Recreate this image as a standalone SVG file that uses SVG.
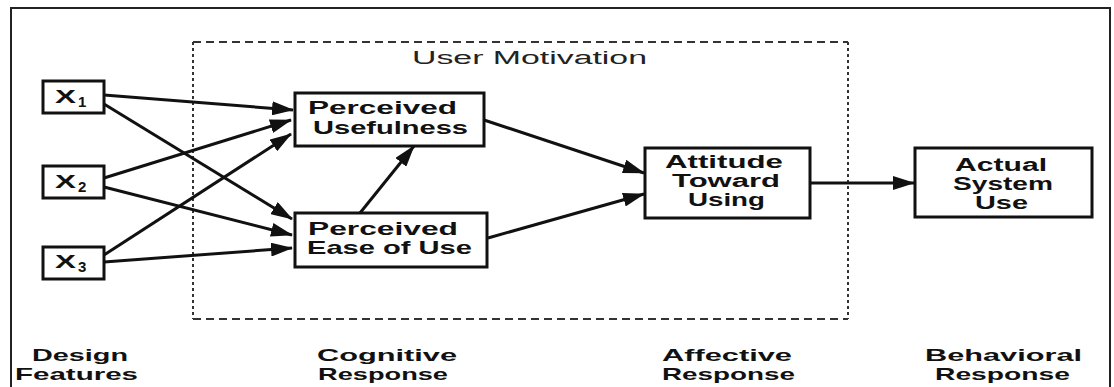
<svg xmlns="http://www.w3.org/2000/svg" width="1114" height="387" viewBox="0 0 1114 387">
<style>
.box{fill:#fff;stroke:#111;stroke-width:3}
.lbl{font-family:"Liberation Sans",Arial,sans-serif;font-weight:bold;font-size:19px;fill:#111}
.lbs{font-family:"Liberation Sans",Arial,sans-serif;font-weight:bold;font-size:18px;fill:#111}
.sub{font-family:"Liberation Sans",Arial,sans-serif;font-weight:bold;font-size:15px;fill:#111}
.cap{font-family:"Liberation Sans",Arial,sans-serif;font-weight:bold;font-size:17px;fill:#111}
.conn{stroke:#111;stroke-width:3;fill:none;marker-end:url(#ah)}
</style>
<defs>
<marker id="ah" markerUnits="userSpaceOnUse" markerWidth="22" markerHeight="14" refX="21" refY="7" orient="auto">
<path d="M0,0 L22,7 L0,14 z" fill="#111"/>
</marker>
</defs>
<rect width="1114" height="387" fill="#fff"/>
<path d="M11,387 V8 H1110 V387" fill="none" stroke="#222" stroke-width="2"/>
<g id="user-motivation">
<path d="M193,42 H848 M193,319 H848" stroke="#333" stroke-width="2" stroke-dasharray="8 5" fill="none"/>
<path d="M193,42 V319 M848,42 V319" stroke="#333" stroke-width="2" stroke-dasharray="3 3" fill="none"/>
<text x="412" y="64" font-family="Liberation Sans, Arial, sans-serif" font-size="18" fill="#222" textLength="235" lengthAdjust="spacingAndGlyphs">User Motivation</text>
</g>
<g id="connectors">
<line class="conn" x1="104" y1="95" x2="293" y2="110"/>
<line class="conn" x1="104" y1="104" x2="292" y2="219"/>
<line class="conn" x1="104" y1="178" x2="291" y2="120"/>
<line class="conn" x1="104" y1="187" x2="292" y2="235"/>
<line class="conn" x1="104" y1="255" x2="291" y2="134"/>
<line class="conn" x1="104" y1="262" x2="292" y2="248"/>
<line class="conn" x1="360" y1="213" x2="414" y2="146"/>
<line class="conn" x1="484" y1="120" x2="644" y2="173"/>
<line class="conn" x1="488" y1="238" x2="644" y2="194"/>
<line class="conn" x1="811" y1="183" x2="914" y2="183"/>
</g>
<g id="x1">
<rect class="box" x="43" y="81" width="61" height="32"/>
<text class="lbl" x="55" y="103" textLength="21" lengthAdjust="spacingAndGlyphs">X</text>
<text class="sub" x="78" y="107">1</text>
</g>
<g id="x2">
<rect class="box" x="43" y="166" width="61" height="32"/>
<text class="lbl" x="55" y="188" textLength="21" lengthAdjust="spacingAndGlyphs">X</text>
<text class="sub" x="78" y="192">2</text>
</g>
<g id="x3">
<rect class="box" x="43" y="247" width="61" height="32"/>
<text class="lbl" x="55" y="268" textLength="21" lengthAdjust="spacingAndGlyphs">X</text>
<text class="sub" x="78" y="272">3</text>
</g>
<g id="perceived-usefulness">
<rect class="box" x="295" y="93" width="189" height="53"/>
<text class="lbl" x="308" y="114" textLength="149" lengthAdjust="spacingAndGlyphs">Perceived</text>
<text class="lbl" x="313" y="134" textLength="155" lengthAdjust="spacingAndGlyphs">Usefulness</text>
</g>
<g id="perceived-ease-of-use">
<rect class="box" x="295" y="213" width="192" height="54"/>
<text class="lbl" x="308" y="235" textLength="150" lengthAdjust="spacingAndGlyphs">Perceived</text>
<text class="lbl" x="307" y="254" textLength="165" lengthAdjust="spacingAndGlyphs">Ease of Use</text>
</g>
<g id="attitude-toward-using">
<rect class="box" x="645" y="148" width="165" height="70"/>
<text class="lbs" x="665" y="168" textLength="118" lengthAdjust="spacingAndGlyphs">Attitude</text>
<text class="lbs" x="672" y="187" textLength="108" lengthAdjust="spacingAndGlyphs">Toward</text>
<text class="lbs" x="688" y="206" textLength="77" lengthAdjust="spacingAndGlyphs">Using</text>
</g>
<g id="actual-system-use">
<rect class="box" x="915" y="148" width="177" height="69"/>
<text class="lbs" x="955" y="171" textLength="92" lengthAdjust="spacingAndGlyphs">Actual</text>
<text class="lbs" x="953" y="190" textLength="100" lengthAdjust="spacingAndGlyphs">System</text>
<text class="lbs" x="975" y="209" textLength="53" lengthAdjust="spacingAndGlyphs">Use</text>
</g>
<g id="stage-labels">
<text class="cap" x="32" y="361" textLength="96" lengthAdjust="spacingAndGlyphs">Design</text>
<text class="cap" x="15" y="380" textLength="123" lengthAdjust="spacingAndGlyphs">Features</text>
<text class="cap" x="317" y="361" textLength="140" lengthAdjust="spacingAndGlyphs">Cognitive</text>
<text class="cap" x="318" y="380" textLength="130" lengthAdjust="spacingAndGlyphs">Response</text>
<text class="cap" x="662" y="361" textLength="130" lengthAdjust="spacingAndGlyphs">Affective</text>
<text class="cap" x="662" y="380" textLength="133" lengthAdjust="spacingAndGlyphs">Response</text>
<text class="cap" x="925" y="361" textLength="157" lengthAdjust="spacingAndGlyphs">Behavioral</text>
<text class="cap" x="935" y="380" textLength="135" lengthAdjust="spacingAndGlyphs">Response</text>
</g>
</svg>
